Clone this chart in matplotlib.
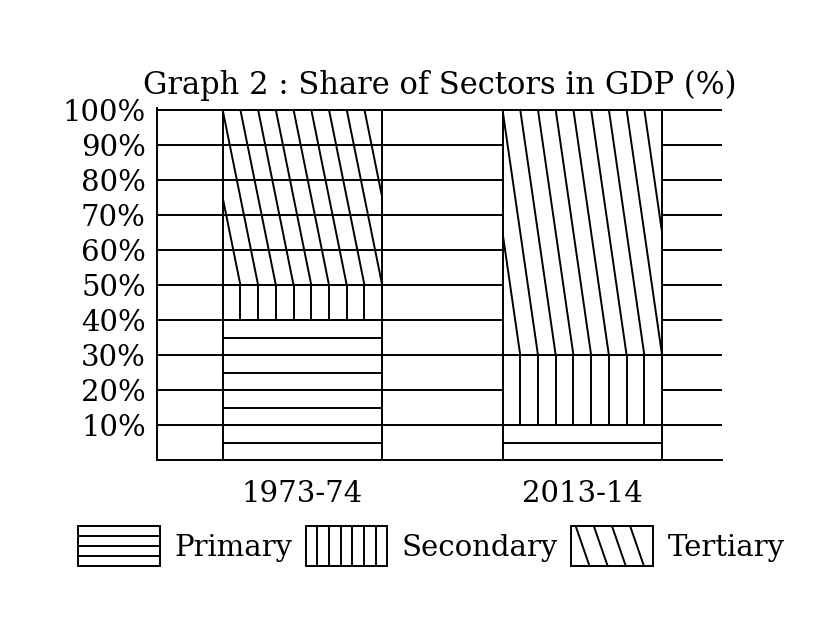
#!/usr/bin/env python3
import numpy as np
import matplotlib
matplotlib.use("Agg")
import matplotlib.pyplot as plt
from matplotlib.patches import Rectangle, Patch
from matplotlib.lines import Line2D
from matplotlib.legend_handler import HandlerBase

YEARS = ["1973-74", "2013-14"]
PRIMARY = [40, 10]
SECONDARY = [10, 20]
TERTIARY = [50, 70]
SECTORS = ["Primary", "Secondary", "Tertiary"]
Y_TICKS = [10, 20, 30, 40, 50, 60, 70, 80, 90, 100]
TITLE = "Graph 2 : Share of Sectors in GDP (%)"

INK = "black"
LW = 1.4
FONT = "DejaVu Serif"
FS = 21


def _hatch(ax, bar, kind, n_div=9, step=5):
    # draw the hatch by hand so the lines line up with the data
    x0, y0 = bar.get_x(), bar.get_y()
    w, h = bar.get_width(), bar.get_height()
    s = w / n_div
    segs = []
    if kind == "Primary":
        for y in np.arange(y0 + step, y0 + h - 0.01, step):
            segs.append(([x0, x0 + w], [y, y]))
    elif kind == "Secondary":
        for k in range(1, n_div):
            segs.append(([x0 + k * s] * 2, [y0, y0 + h]))
    else:
        for k in range(-2, n_div + 1):
            segs.append(([x0 + k * s, x0 + (k + 2) * s], [y0 + h, y0]))
    for xs, ys in segs:
        ln, = ax.plot(xs, ys, color=INK, lw=LW, zorder=1.1)
        ln.set_clip_path(bar)


class SectorHandler(HandlerBase):
    def __init__(self, kind):
        super().__init__()
        self.kind = kind

    def create_artists(self, legend, orig_handle, xdescent, ydescent,
                       width, height, fontsize, trans):
        x0, y0 = -xdescent, -ydescent
        arts = [Rectangle((x0, y0), width, height, fill=False, ec=INK,
                          lw=LW, transform=trans)]
        segs = []
        if self.kind == "Primary":
            for k in range(1, 4):
                y = y0 + height * k / 4
                segs.append(([x0, x0 + width], [y, y]))
        elif self.kind == "Secondary":
            for k in range(1, 7):
                x = x0 + width * k / 7
                segs.append(([x, x], [y0, y0 + height]))
        else:
            s = width / 4.5
            for k in range(1, 5):
                segs.append(([x0 + (k - 0.75) * s, x0 + k * s], [y0 + height, y0]))
        for xs, ys in segs:
            arts.append(Line2D(xs, ys, color=INK, lw=LW, transform=trans))
        return arts


def main():
    plt.rcParams["font.family"] = FONT
    fig = plt.figure(figsize=(8.17, 6.17), dpi=100)
    ax = fig.add_axes([0.192, 0.254, 0.692, 0.571])

    x = np.arange(len(YEARS))
    width = 0.57
    fills = ["none", "white"]
    bottoms = np.zeros(len(YEARS))
    for name, vals in zip(SECTORS, [PRIMARY, SECONDARY, TERTIARY]):
        bars = ax.bar(x, vals, width, bottom=bottoms, color=fills,
                      edgecolor=INK, linewidth=LW, zorder=1)
        for b in bars:
            _hatch(ax, b, name)
        bottoms = bottoms + np.array(vals)

    ax.set_xlim(-0.52, 1.5)
    ax.set_ylim(0, 100.5)
    ax.set_yticks(Y_TICKS)
    ax.set_yticklabels([f"{t}%" for t in Y_TICKS])
    ax.set_xticks(x)
    ax.set_xticklabels(YEARS)
    ax.tick_params(length=0, labelsize=FS)
    ax.tick_params(axis="y", pad=8)
    ax.tick_params(axis="x", pad=14)

    ax.set_axisbelow(True)
    ax.yaxis.grid(True, color=INK, linewidth=LW)
    for side in ["top", "right"]:
        ax.spines[side].set_visible(False)
    ax.spines["left"].set_linewidth(LW)
    ax.spines["bottom"].set_linewidth(LW)

    ax.set_title(TITLE, fontsize=22, pad=10)

    handles = [Patch(label=n) for n in SECTORS]
    hmap = {h: SectorHandler(n) for h, n in zip(handles, SECTORS)}
    fig.legend(handles, SECTORS, handler_map=hmap, loc="center",
               bbox_to_anchor=(0.528, 0.115), ncol=3, frameon=False,
               handlelength=2.8, handleheight=1.7, handletextpad=0.5,
               columnspacing=0.45, prop=dict(family=FONT, size=FS))

    fig.savefig("out.png", dpi=100)
    plt.close(fig)


if __name__ == "__main__":
    main()
